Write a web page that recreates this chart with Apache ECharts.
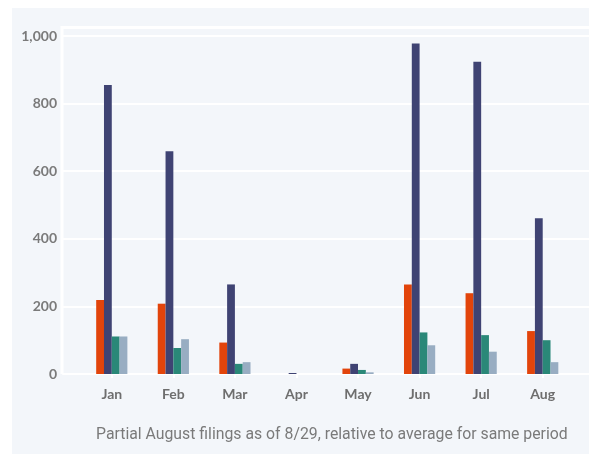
<!DOCTYPE html>
<html>
<head>
<meta charset="utf-8">
<script src="https://cdn.jsdelivr.net/npm/echarts@6/dist/echarts.min.js"></script>
<style>
  html, body { margin: 0; padding: 0; background: #fff; }
  #chart { width: 589px; height: 454px; }
</style>
</head>
<body>
<div id="chart"></div>
<script>
// months on the x axis
const months = ["Jan", "Feb", "Mar", "Apr", "May", "Jun", "Jul", "Aug"];
const yTicks = [0, 200, 400, 600, 800, 1000];

// values
const seriesOrange = [219, 208, 93, 0, 16, 265, 239, 127];
const seriesNavy = [855, 659, 265, 3, 30, 978, 924, 461];
const seriesTeal = [111, 77, 30, 0, 12, 123, 115, 100];
const seriesSteel = [111, 103, 35, 0, 5, 85, 66, 35];

const footnote = "Partial August filings as of 8/29, relative to average for same period";

const colors = ["#e2440b", "#3f4373", "#2a8878", "#98adc2"];
const barData = [seriesOrange, seriesNavy, seriesTeal, seriesSteel];
const barNames = ["A", "B", "C", "D"];

const chart = echarts.init(document.getElementById("chart"));

chart.setOption({
  animation: false,
  backgroundColor: "#fff",
  grid: [
    // full width grid: gridlines + y labels
    { left: 63, right: 0, top: 36, bottom: 80 },
    // bars
    { left: 81, right: 15.5, top: 36, bottom: 80 }
  ],
  graphic: [
    {
      type: "rect",
      z: -10,
      shape: { x: 12, y: 8, width: 577, height: 446 },
      style: { fill: "#f3f6fa" }
    },
    {
      type: "polyline",
      z: 1,
      shape: { points: [[62, 374], [62, 27.5], [589, 27.5]] },
      style: { stroke: "#ffffff", lineWidth: 3, fill: null }
    },
    {
      type: "text",
      left: 96,
      top: 427,
      style: {
        text: footnote,
        fill: "#7a7a7a",
        font: "15.8px Roboto"
      }
    }
  ],
  xAxis: [
    {
      gridIndex: 0,
      type: "value",
      min: 0,
      max: 1,
      axisLabel: { show: false },
      splitLine: { show: false },
      axisTick: { show: false },
      axisLine: { show: true, lineStyle: { color: "#ffffff", width: 2 } }
    },
    {
      gridIndex: 1,
      type: "category",
      data: months,
      axisLine: { show: false },
      axisTick: {
        show: true,
        alignWithLabel: true,
        length: 4,
        lineStyle: { color: "#ffffff", width: 2 }
      },
      axisLabel: {
        color: "#6e6e6e",
        fontFamily: "Lato",
        fontWeight: "bold",
        fontSize: 14,
        margin: 13
      }
    }
  ],
  yAxis: [
    {
      gridIndex: 0,
      type: "value",
      min: yTicks[0],
      max: yTicks[yTicks.length - 1],
      interval: 200,
      axisLine: { show: false },
      axisTick: { show: false },
      splitLine: { lineStyle: { color: "#ffffff", width: 2 } },
      axisLabel: {
        color: "#7a7a7a",
        fontFamily: "Lato",
        fontWeight: "bold",
        fontSize: 14,
        margin: 6,
        formatter: v => v.toLocaleString("en-US")
      }
    },
    {
      gridIndex: 1,
      type: "value",
      min: yTicks[0],
      max: yTicks[yTicks.length - 1],
      interval: 200,
      show: false,
      splitLine: { show: false }
    }
  ],
  series: barData.map((d, i) => ({
    name: barNames[i],
    type: "bar",
    xAxisIndex: 1,
    yAxisIndex: 1,
    data: d,
    barWidth: 7.8,
    barGap: "0%",
    itemStyle: { color: colors[i] }
  }))
});
</script>
</body>
</html>
